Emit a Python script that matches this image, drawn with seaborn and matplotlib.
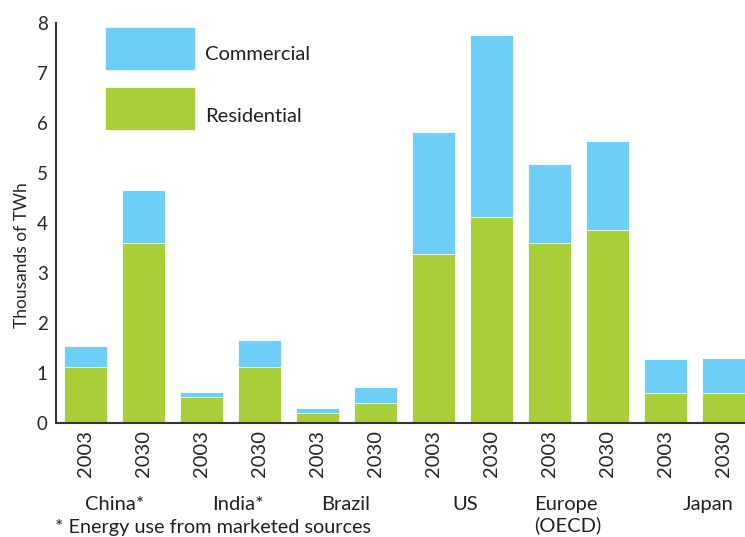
import pandas as pd
import matplotlib.pyplot as plt
import seaborn as sns
from matplotlib.patches import Rectangle

# values (thousands of TWh)
countries = ["China*", "China*", "India*", "India*", "Brazil", "Brazil",
             "US", "US", "Europe", "Europe", "Japan", "Japan"]
years = ["2003", "2030"] * 6
residential = [1.12, 3.60, 0.51, 1.12, 0.19, 0.39, 3.38, 4.11, 3.60, 3.86, 0.59, 0.59]
commercial = [0.42, 1.06, 0.10, 0.53, 0.10, 0.32, 2.43, 3.65, 1.57, 1.78, 0.68, 0.70]

# group label positions (in bar units) as placed in the reference
group_labels = ["China*", "India*", "Brazil", "US", "Japan"]
group_pos = [0.51, 2.64, 4.49, 6.55, 10.73]

BLUE = "#6dcff6"
GREEN = "#a8ce3a"
DARK = "#333333"
W, H = 745, 537

sns.set_style("white")
plt.rcParams["font.family"] = ["Lato", "DejaVu Sans"]
plt.rcParams["text.color"] = "#231f20"

df = pd.DataFrame({
    "bar": [f"{c} {y}" for c, y in zip(countries, years)],
    "year": years,
    "residential": residential,
    "commercial": commercial,
})
df["total"] = df["residential"] + df["commercial"]

fig = plt.figure(figsize=(W / 100, H / 100), dpi=100)
ax = fig.add_axes([56 / W, 1 - 423 / H, 689 / W, (423 - 22.5) / H])

sns.barplot(data=df, x="bar", y="total", color=BLUE, width=0.74, saturation=1,
            edgecolor="white", linewidth=0.6, ax=ax)
sns.barplot(data=df, x="bar", y="residential", color=GREEN, width=0.74, saturation=1,
            edgecolor="white", linewidth=0.6, ax=ax)

ax.set_xlim(-0.5, -0.5 + 689 / 58.08)
ax.set_ylim(0, 8)
ax.set_yticks(range(0, 9))
ax.tick_params(axis="y", direction="in", length=12, width=1.5, color=DARK,
               labelsize=13.5, pad=6)

# year labels under each bar, boundary marks between bars
ax.set_xticks(range(len(df)))
ax.set_xticklabels(df["year"], rotation=90, fontsize=14.5)
ax.set_xticks([i + 0.5 for i in range(len(df) - 1)], minor=True)
ax.tick_params(axis="x", which="major", length=0, pad=5)
ax.tick_params(axis="x", which="minor", direction="in", length=7, width=1.5, color=DARK)
ax.set_xlabel("")

for side in ["top", "right"]:
    ax.spines[side].set_visible(False)
for side in ["left", "bottom"]:
    ax.spines[side].set_linewidth(1.5)
    ax.spines[side].set_color(DARK)

ax.set_ylabel("Thousands of TWh", fontsize=12.5)
ax.yaxis.set_label_coords(-0.038, 0.42)

# country names
trans = ax.get_xaxis_transform()
for name, pos in zip(group_labels, group_pos):
    ax.text(pos, -0.204, name, transform=trans, ha="center", va="center", fontsize=14.5)
ax.text(7.74, -0.204, "Europe", transform=trans, ha="left", va="center", fontsize=14.5)
ax.text(7.74, -0.256, "(OECD)", transform=trans, ha="left", va="center", fontsize=14.5)

fig.text(55 / W, 1 - 527 / H, "* Energy use from marketed sources",
         ha="left", va="center", fontsize=14.3)

# legend drawn as swatches + labels, placed as in the reference
for label, color, top, ty in [("Commercial", BLUE, 28, 55), ("Residential", GREEN, 88, 116)]:
    fig.patches.append(Rectangle((106 / W, 1 - (top + 41) / H), 88 / W, 41 / H,
                                 transform=fig.transFigure, color=color))
    fig.text(205 / W, 1 - ty / H, label, ha="left", va="center", fontsize=14.5)

fig.savefig("out.png", dpi=100)
